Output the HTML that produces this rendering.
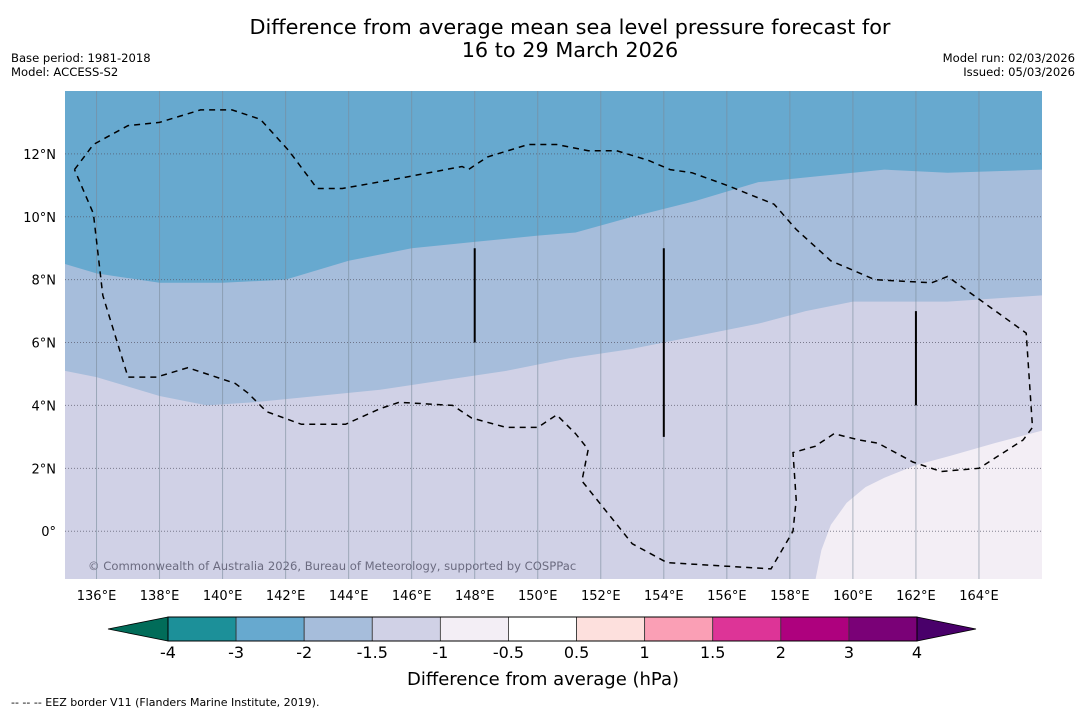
<!DOCTYPE html>
<html><head><meta charset="utf-8">
<style>
html,body{margin:0;padding:0;background:#fff;width:1085px;height:713px;overflow:hidden;font-family:"DejaVu Sans","Liberation Sans",sans-serif;}
svg text{font-family:"DejaVu Sans","Liberation Sans",sans-serif;}
</style></head>
<body>
<svg id="chart" width="1085" height="713" xmlns="http://www.w3.org/2000/svg">
<text x="570" y="34" font-size="20.8" text-anchor="middle" fill="#000">Difference from average mean sea level pressure forecast for</text>
<text x="570" y="57" font-size="20.8" text-anchor="middle" fill="#000">16 to 29 March 2026</text>
<text x="11" y="62" font-size="11.6" fill="#000">Base period: 1981-2018</text>
<text x="11" y="76" font-size="11.6" fill="#000">Model: ACCESS-S2</text>
<text x="1075" y="62" font-size="11.6" text-anchor="end" fill="#000">Model run: 02/03/2026</text>
<text x="1075" y="76" font-size="11.6" text-anchor="end" fill="#000">Issued: 05/03/2026</text>
<g id="map"></g>
<g id="cbar"></g>
<text x="543" y="685" font-size="18" text-anchor="middle" fill="#000">Difference from average (hPa)</text>
<text x="11" y="706" font-size="11" fill="#000">--  --  -- EEZ border V11 (Flanders Marine Institute, 2019).</text>
</svg>
<script>
const lonTicks=[136,138,140,142,144,146,148,150,152,154,156,158,160,162,164];
const latTicks=[0,2,4,6,8,10,12];
const levels=["-4","-3","-2","-1.5","-1","-0.5","0.5","1","1.5","2","3","4"];
const levelColors=["#1c9099","#67a9cf","#a6bddb","#d0d1e6","#f3eef5","#ffffff","#fde0dd","#fa9fb5","#dd3497","#ae017e","#7a0177"];
const lowExtendColor="#016c59", highExtendColor="#49006a";
// contour boundaries [lon,lat]
const blueEdge=[[135,8.5],[136,8.2],[138,7.9],[140,7.9],[142,8.0],[144,8.6],[146,9.0],[148,9.2],[150,9.4],[151.2,9.5],[153,10.0],[155,10.5],[157,11.1],[159,11.3],[161,11.5],[163,11.4],[166,11.5]];
const lightBlueEdge=[[135,5.1],[136,4.9],[138,4.3],[139.5,4.0],[141,4.1],[143,4.3],[145,4.5],[147,4.8],[149,5.1],[151,5.5],[153,5.8],[155,6.2],[157,6.6],[158.5,7.0],[160,7.3],[163,7.3],[166,7.5]];
const whiteEdge=[[158.8,-1.6],[159.0,-0.6],[159.3,0.2],[159.8,0.9],[160.4,1.4],[161.0,1.7],[162,2.1],[163.1,2.4],[164.5,2.8],[166,3.2]];
const eez=[[135.3,11.5],[135.9,12.3],[137,12.9],[138,13.0],[139.3,13.4],[140.3,13.4],[141.2,13.1],[142.1,12.1],[143.0,10.9],[143.8,10.9],[145.5,11.2],[147.6,11.6],[147.8,11.5],[148.4,11.9],[149.7,12.3],[150.6,12.3],[151.6,12.1],[152.5,12.1],[153.5,11.8],[154.2,11.5],[154.9,11.4],[156.0,11.0],[157.5,10.4],[158.2,9.6],[159.3,8.6],[160.7,8.0],[162.5,7.9],[163,8.1],[165.5,6.3],[165.7,3.3],[165.4,2.9],[164,2.0],[162.8,1.9],[161.9,2.2],[160.8,2.8],[160.2,2.9],[159.4,3.1],[158.8,2.7],[158.1,2.5],[158.2,1.0],[158.1,0.0],[157.4,-1.2],[154.1,-1.0],[153,-0.4],[151.4,1.6],[151.6,2.6],[151.2,3.1],[150.6,3.7],[150,3.3],[149,3.3],[147.9,3.6],[147.3,4.0],[145.6,4.1],[145,3.9],[143.9,3.4],[142.5,3.4],[141.4,3.8],[140.8,4.4],[140.4,4.7],[138.9,5.2],[137.9,4.9],[137,4.9],[136.2,7.5],[135.9,10.1],[135.3,11.5]];
const ridgeLines=[[148,6,9],[154,3,9],[162,4,7]];

const NS="http://www.w3.org/2000/svg";
const X0=65,X1=1042,Y0=91,Y1=579;
const lon0=135,lon1=166,lat0=14,lat1=-1.52;
const xs=l=>X0+(l-lon0)/(lon1-lon0)*(X1-X0);
const ys=l=>Y0+(l-lat0)/(lat1-lat0)*(Y1-Y0);
function el(t,a,p){const e=document.createElementNS(NS,t);for(const k in a)e.setAttribute(k,a[k]);p.appendChild(e);return e;}
const map=document.getElementById('map');
const clip=el('clipPath',{id:'mc'},map);el('rect',{x:X0,y:Y0,width:X1-X0,height:Y1-Y0},clip);
const g=el('g',{'clip-path':'url(#mc)'},map);
let r=el('rect',{x:X0,y:Y0,width:X1-X0,height:Y1-Y0,fill:levelColors[1]},g);


function band(edge,fill,name){
  let d='M'+xs(edge[0][0])+','+ys(edge[0][1]);
  edge.forEach(p=>d+=' L'+xs(p[0])+','+ys(p[1]));
  d+=' L'+(X1+5)+','+(Y1+5)+' L'+(X0-5)+','+(Y1+5)+' Z';
  const p=el('path',{d:d,fill:fill},g);
  
  
}
band(blueEdge,levelColors[2],'anomaly-region-minus2');
band(lightBlueEdge,levelColors[3],'anomaly-region-minus1-5');
{
 let d='M'+xs(whiteEdge[0][0])+','+ys(whiteEdge[0][1]);
 whiteEdge.forEach(p=>d+=' L'+xs(p[0])+','+ys(p[1]));
 d+=' L'+(X1+5)+','+(Y1+5)+' Z';
 const p=el('path',{d:d,fill:levelColors[4]},g);
 
 
}
lonTicks.forEach(l=>{
 const ln=el('line',{x1:xs(l),x2:xs(l),y1:Y0,y2:Y1,stroke:'#7a8a9a','stroke-width':1,'stroke-opacity':0.6},g);
 
 
 const t=el('text',{x:xs(l),y:600,'font-size':13,'text-anchor':'middle',fill:'#000'},map);
 t.textContent=l+'°E';
 
 
});
latTicks.forEach(l=>{
 const ln=el('line',{x1:X0,x2:X1,y1:ys(l),y2:ys(l),stroke:'#556','stroke-width':1,'stroke-dasharray':'1,2','stroke-opacity':0.7},g);
 
 
 const t=el('text',{x:56,y:ys(l)+5,'font-size':13,'text-anchor':'end',fill:'#000'},map);
 t.textContent=l===0?'0°':l+'°N';
 
 
});
{
 let d='';eez.forEach((p,i)=>d+=(i?' L':'M')+xs(p[0]).toFixed(1)+','+ys(p[1]).toFixed(1));
 const p=el('path',{d:d,fill:'none',stroke:'#000','stroke-width':1.5,'stroke-dasharray':'6,5'},g);
 
 
}
ridgeLines.forEach(rl=>{
 const ln=el('line',{x1:xs(rl[0]),x2:xs(rl[0]),y1:ys(rl[2]),y2:ys(rl[1]),stroke:'#000','stroke-width':2},g);
 
 
});
{
 const t=el('text',{x:88,y:570,'font-size':11.6,fill:'#6b6b80'},g);
 t.textContent='© Commonwealth of Australia 2026, Bureau of Meteorology, supported by COSPPac';
 
 
}
const cb=document.getElementById('cbar');
const CB0=168,CB1=917,CY=617,CH=24,bw=(CB1-CB0)/levelColors.length;
{
 const t1=el('polygon',{points:`${CB0},${CY} 108,${CY+CH/2} ${CB0},${CY+CH}`,fill:lowExtendColor,stroke:'#000','stroke-width':0.8},cb);
 
 
 const t2=el('polygon',{points:`${CB1},${CY} 976,${CY+CH/2} ${CB1},${CY+CH}`,fill:highExtendColor,stroke:'#000','stroke-width':0.8},cb);
 
 
}
levelColors.forEach((c,i)=>{
 const b=el('rect',{x:CB0+i*bw,y:CY,width:bw,height:CH,fill:c,stroke:'#333','stroke-width':0.8},cb);
 
 
});
el('rect',{x:CB0,y:CY,width:CB1-CB0,height:CH,fill:'none',stroke:'#000','stroke-width':1},cb);
levels.forEach((l,i)=>{
 const t=el('text',{x:CB0+i*bw,y:658,'font-size':16,'text-anchor':'middle',fill:'#000'},cb);
 t.textContent=l;
 
 
});
</script>
</body></html>
